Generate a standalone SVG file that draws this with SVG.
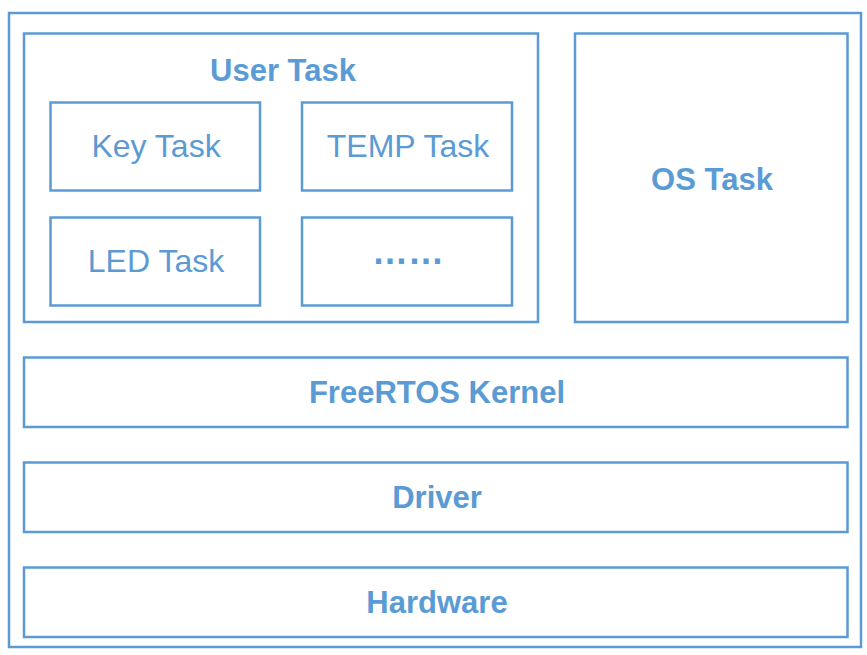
<svg xmlns="http://www.w3.org/2000/svg" width="867" height="655" viewBox="0 0 867 655">
<style>
rect{fill:#fff;stroke:#5B9BD5;stroke-width:2.5}
text{fill:#5B9BD5;font-family:"Liberation Sans",Arial,sans-serif;font-size:31px;text-anchor:middle}
.r{font-size:32px}
.b{font-weight:bold}
</style>
<rect width="867" height="655" style="stroke:none"/>
<g id="system"><rect x="9" y="13" width="852" height="634"/></g>
<g id="user-task"><rect x="24" y="33.5" width="514" height="288.5"/><text class="b" x="283" y="81">User Task</text></g>
<g id="key-task"><rect x="50.5" y="102.5" width="209.5" height="88"/><text class="r" x="156" y="157">Key Task</text></g>
<g id="temp-task"><rect x="302" y="102.5" width="210" height="88"/><text class="r" x="408" y="157">TEMP Task</text></g>
<g id="led-task"><rect x="50.5" y="217.5" width="209.5" height="88"/><text class="r" x="156" y="272">LED Task</text></g>
<g id="more-task"><rect x="302" y="217.5" width="210" height="88"/><text class="b" x="408" y="264" style="font-size:36px">……</text></g>
<g id="os-task"><rect x="575" y="33.5" width="272.5" height="288.5"/><text class="b" x="712" y="190">OS Task</text></g>
<g id="kernel"><rect x="24" y="357.5" width="823.5" height="69.5"/><text class="b" x="437" y="403">FreeRTOS Kernel</text></g>
<g id="driver"><rect x="24" y="462.5" width="823.5" height="69.5"/><text class="b" x="437" y="508">Driver</text></g>
<g id="hardware"><rect x="24" y="567.5" width="823.5" height="69.5"/><text class="b" x="437" y="613">Hardware</text></g>
<g id="connectors"/>
</svg>
